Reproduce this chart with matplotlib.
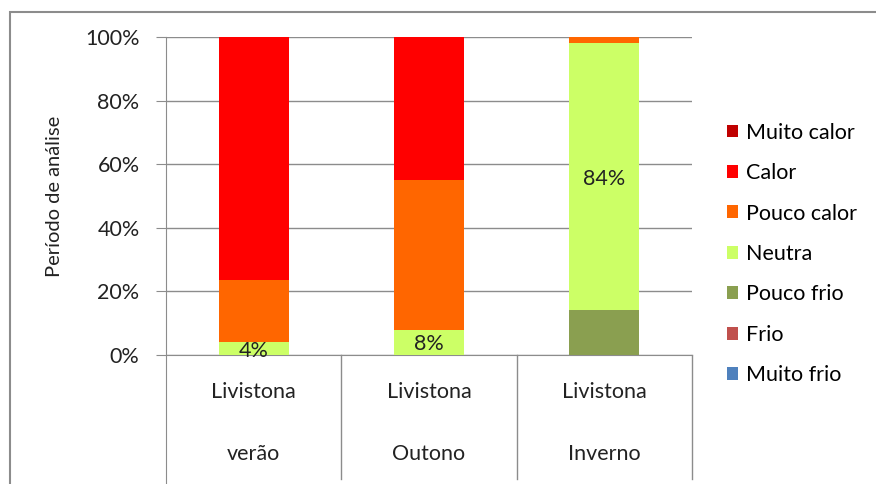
import numpy as np
import matplotlib.pyplot as plt
from matplotlib.patches import Patch, Rectangle
import matplotlib.transforms as mtransforms

plt.rcParams['font.family'] = ['Lato', 'DejaVu Sans']

estacoes = ['verão', 'Outono', 'Inverno']
especie = ['Livistona', 'Livistona', 'Livistona']
classes = ['Muito calor', 'Calor', 'Pouco calor', 'Neutra', 'Pouco frio', 'Frio', 'Muito frio']
cores = ['#C00000', '#FF0000', '#FF6600', '#CCFF66', '#8A9F50', '#C0504D', '#4F81BD']

# valores em fracao (de baixo para cima: Muito frio ... Muito calor)
muito_frio = [0.0, 0.0, 0.0]
frio = [0.0, 0.0, 0.0]
pouco_frio = [0.0, 0.0, 0.14]
neutra = [0.04, 0.08, 0.84]
pouco_calor = [0.195, 0.47, 0.02]
calor = [0.765, 0.45, 0.0]
muito_calor = [0.0, 0.0, 0.0]

series = {
    'Muito frio': muito_frio,
    'Frio': frio,
    'Pouco frio': pouco_frio,
    'Neutra': neutra,
    'Pouco calor': pouco_calor,
    'Calor': calor,
    'Muito calor': muito_calor,
}
rotulos = {'Neutra': ['4%', '8%', '84%']}

W, H = 876, 484
fig = plt.figure(figsize=(W / 100, H / 100), dpi=100)
fig.patches.append(Rectangle((10 / W, -0.1), 1.1, 1 - 12 / H + 0.1, transform=fig.transFigure,
                             fill=False, edgecolor='#8c8c8c', linewidth=1.5))

ax = fig.add_axes([166 / W, (H - 355) / H, (692 - 166) / W, (355 - 37) / H])
x = np.arange(len(estacoes))
base = np.zeros(len(estacoes))
for nome in ['Muito frio', 'Frio', 'Pouco frio', 'Neutra', 'Pouco calor', 'Calor', 'Muito calor']:
    vals = np.array(series[nome])
    cor = cores[classes.index(nome)]
    ax.bar(x, vals, bottom=base, width=0.4, color=cor, zorder=3)
    if nome in rotulos:
        for i in range(len(x)):
            ax.text(x[i], base[i] + vals[i] / 2 - 0.006, rotulos[nome][i], ha='center', va='center',
                    fontsize=15.5, color='#222222', zorder=4)
    base = base + vals

ax.set_xlim(-0.5, 2.5)
ax.set_ylim(0, 1)
ax.set_yticks(np.arange(0, 1.01, 0.2))
ax.set_yticklabels(['%d%%' % v for v in range(0, 101, 20)], fontsize=15.5, color='#222222')
ax.yaxis.grid(True, color='#8c8c8c', linewidth=1)
ax.set_axisbelow(True)
ax.tick_params(axis='y', length=7, color='#8c8c8c', pad=12)
ax.set_xticks([])
for s in ['top', 'right']:
    ax.spines[s].set_visible(False)
ax.spines['bottom'].set_color('#8c8c8c')
ax.spines['left'].set_color('#8c8c8c')
ax.spines['left'].set_bounds(-0.45, 1)

# separadores das categorias
for xs in [0.5, 1.5, 2.5]:
    ax.plot([xs, xs], [0, -0.39], color='#8c8c8c', linewidth=1, clip_on=False)

trans = mtransforms.blended_transform_factory(ax.transData, ax.transAxes)
for i in range(len(x)):
    ax.text(x[i], -0.115, especie[i], transform=trans, ha='center', va='center', fontsize=15.5, color='#222222')
    ax.text(x[i], -0.31, estacoes[i], transform=trans, ha='center', va='center', fontsize=15.5, color='#222222')

ax.set_ylabel('Período de análise', fontsize=14.5, color='#222222', labelpad=16)

handles = [Patch(facecolor=cores[i], label=classes[i]) for i in range(len(classes))]
fig.legend(handles=handles, loc='upper left', bbox_to_anchor=(718 / W, 1 - 114 / H), frameon=False,
           fontsize=15.5, handlelength=0.55, handleheight=0.55, handletextpad=0.35, labelspacing=0.95,
           borderaxespad=0)

fig.savefig('out.png', dpi=100)
